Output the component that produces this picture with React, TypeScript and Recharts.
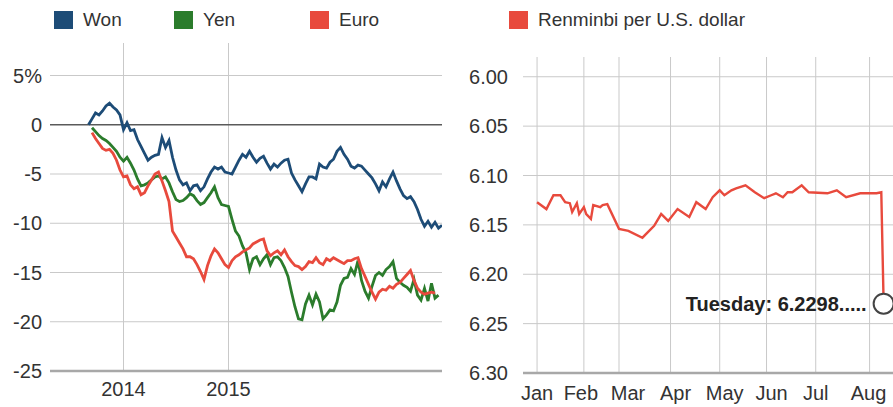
import React from 'react';
import {
  LineChart,
  Line,
  XAxis,
  YAxis,
  ReferenceLine,
  ReferenceDot,
} from 'recharts';

const FONT = '"Liberation Sans", Arial, Helvetica, sans-serif';

// ---- Left panel: % change against the U.S. dollar (weekly index) ----
const WEEK_COUNT = 102;
const YEAR_TICK_WEEKS = [10, 40];
const YEAR_LABELS = ['2014', '2015'];
const PCT_TICKS = [-25, -20, -15, -10, -5, 0, 5];

const WON = [
  0.0, 0.6, 1.2, 1.0, 1.4, 1.9, 2.2, 1.8, 1.5, 1.0,
  -0.5, 0.2, -0.6, -0.5, -1.5, -2.2, -2.9, -3.6, -3.3, -3.1,
  -3.0, -1.3, -2.3, -1.6, -3.3, -4.6, -5.6, -6.1, -5.9, -6.7,
  -6.2, -6.1, -6.7, -6.3, -5.5, -4.8, -4.3, -4.5, -4.3, -4.8,
  -4.9, -5.0, -4.3, -3.6, -3.0, -3.3, -2.7, -3.3, -3.8, -3.4,
  -3.2, -3.9, -4.5, -4.0, -4.3, -3.9, -3.6, -3.5, -4.9, -5.6,
  -6.2, -6.8, -6.0, -5.3, -5.3, -5.5, -4.0, -4.3, -4.4, -3.8,
  -3.5, -2.7, -2.3, -3.0, -3.5, -4.2, -4.4, -4.1, -4.2, -4.6,
  -5.0, -5.4, -6.0, -6.7, -5.8, -6.3, -5.5, -4.8, -5.7, -6.5,
  -7.2, -7.5, -7.3, -7.8, -8.6, -9.6, -10.3, -9.8, -10.4, -9.9,
  -10.5, -10.2,
];

const YEN = [
  null, -0.3, -0.7, -1.1, -1.4, -1.6, -1.9, -2.3, -2.7, -3.3,
  -3.7, -3.3, -3.9, -4.6, -5.5, -6.2, -6.1, -5.9, -5.6, -5.3,
  -5.2, -5.5, -5.3, -5.9, -6.8, -7.6, -7.8, -7.7, -7.4, -7.0,
  -7.2, -7.7, -8.1, -7.9, -7.4, -6.9, -6.3, -7.4, -8.1, -8.2,
  -8.3, -9.6, -10.8, -11.3, -12.3, -13.0, -14.7, -13.6, -13.4, -14.2,
  -13.6, -13.2, -14.2, -13.5, -13.4, -13.8, -14.5, -15.4, -17.0, -18.5,
  -19.7, -19.8, -18.2, -17.3, -18.3, -17.2, -18.0, -19.7, -19.3, -18.8,
  -18.9, -18.0, -16.3, -15.6, -15.5, -14.6, -15.2, -13.8, -15.8, -16.9,
  -17.6, -16.4, -15.3, -15.0, -15.3, -14.7, -14.4, -13.9, -15.6, -16.0,
  -16.3, -16.5, -16.9, -15.7, -17.3, -17.8, -16.6, -17.9, -16.1, -17.6,
  -17.3, null,
];

const EURO = [
  null, -0.8, -1.4, -1.9, -2.4, -2.6, -2.5, -2.9, -3.6, -4.6,
  -5.3, -5.2, -6.1, -6.5, -6.3, -7.1, -6.9, -6.2, -5.6, -5.0,
  -4.8, -5.7, -6.7, -7.8, -10.8, -11.4, -12.0, -12.6, -13.4, -13.4,
  -13.6, -14.2, -14.9, -15.7, -14.3, -13.3, -12.6, -13.0, -13.6, -14.2,
  -14.5, -13.8, -13.4, -13.2, -12.9, -12.7, -12.5, -12.1, -11.9, -11.7,
  -11.6, -12.8, -13.3, -13.0, -12.8, -13.2, -12.7, -13.4, -13.9, -14.3,
  -14.4, -14.7, -14.4, -13.9, -14.0, -13.5, -14.0, -14.2, -13.6, -13.8,
  -13.5, -13.7, -13.9, -14.1, -13.8, -13.8, -13.6, -13.5, -14.6, -15.4,
  -16.2, -17.0, -17.7, -17.0, -16.7, -16.8, -16.4, -16.6, -16.2, -16.0,
  -15.6, -15.2, -14.8, -15.8, -16.6, -17.0, -17.2, -17.1, -17.0, -17.1,
  null, null,
];

const CURRENCIES = [
  { key: 'won', name: 'Won', color: '#1d4c77', values: WON },
  { key: 'yen', name: 'Yen', color: '#2b7c2c', values: YEN },
  { key: 'euro', name: 'Euro', color: '#e84a3d', values: EURO },
];

// ---- Right panel: renminbi per U.S. dollar, by trading day of 2015 ----
const RMB_DAY = [
  0, 4, 7, 10, 12, 14, 15, 17, 18, 20,
  21, 23, 24, 27, 28, 30, 35, 39, 45, 50,
  53, 56, 60, 65, 68, 72, 75, 78, 80, 83,
  85, 89, 93, 97, 100, 102, 105, 107, 109, 113,
  116, 124, 128, 132, 138, 141, 145, 147, 148,
];
const RMB_RATE = [
  6.127, 6.134, 6.12, 6.12, 6.127, 6.128, 6.137, 6.128, 6.139, 6.132,
  6.139, 6.144, 6.13, 6.132, 6.13, 6.129, 6.154, 6.156, 6.163, 6.151,
  6.139, 6.146, 6.134, 6.142, 6.127, 6.134, 6.122, 6.115, 6.12, 6.115,
  6.113, 6.11, 6.117, 6.123, 6.12, 6.118, 6.122, 6.117, 6.117, 6.11,
  6.117, 6.118, 6.115, 6.122, 6.118, 6.118, 6.118, 6.117, 6.2298,
];
const MONTH_START_DAYS = [0, 20, 35, 57, 78, 98, 119, 142];
const MONTH_LABELS = ['Jan', 'Feb', 'Mar', 'Apr', 'May', 'Jun', 'Jul', 'Aug'];
const RATE_TICKS = [6.0, 6.05, 6.1, 6.15, 6.2, 6.25, 6.3];
const RMB_NAME = 'Renminbi per U.S. dollar';
const RMB_COLOR = '#e84a3d';
const LAST_DAY_NAME = 'Tuesday';

const pctRows = Array.from({ length: WEEK_COUNT }, (_, i) => {
  const row: Record<string, number | null> = { week: i };
  CURRENCIES.forEach((c) => {
    row[c.key] = c.values[i];
  });
  return row;
});

const rmbRows = RMB_DAY.map((day, i) => ({ day, rate: RMB_RATE[i] }));
const lastRow = rmbRows[rmbRows.length - 1];

const TICK_FONT = { fontSize: 20, fill: '#333', fontFamily: FONT };
const GRID = '#c9c9c9';
// Month labels are nudged sideways so the short February doesn't crowd March.
const MONTH_NUDGE = [0, -3, 9, 5, 5, 5, 0, -1];

function MonthTick(props: any) {
  const { x, y, payload, index } = props;
  const i = MONTH_START_DAYS.indexOf(payload.value);
  return (
    <text
      x={x + (MONTH_NUDGE[i] ?? 0)}
      y={y}
      dy={15}
      textAnchor="middle"
      fontSize={20}
      fill="#333"
      fontFamily={FONT}
      key={index}
    >
      {MONTH_LABELS[i]}
    </text>
  );
}

function LegendSwatch({ left, color, label }: { left: number; color: string; label: string }) {
  return (
    <div
      style={{
        position: 'absolute',
        left,
        top: 9,
        display: 'flex',
        alignItems: 'center',
        fontFamily: FONT,
        fontSize: 19,
        color: '#333',
        whiteSpace: 'nowrap',
      }}
    >
      <span style={{ display: 'inline-block', width: 19, height: 18, background: color, marginRight: 10 }} />
      <span>{label}</span>
    </div>
  );
}

const LEFT_LEGEND_X = [54, 174, 310];

export default function App() {
  const yearLabel = (v: number) => YEAR_LABELS[YEAR_TICK_WEEKS.indexOf(v)] ?? '';

  return (
    <div
      style={{
        position: 'absolute',
        left: 0,
        top: 0,
        width: 893,
        height: 407,
        background: '#fff',
        overflow: 'hidden',
        fontFamily: FONT,
      }}
    >
      {CURRENCIES.map((c, i) => (
        <LegendSwatch key={c.key} left={LEFT_LEGEND_X[i]} color={c.color} label={c.name} />
      ))}
      <LegendSwatch left={509} color={RMB_COLOR} label={RMB_NAME} />

      <div style={{ position: 'absolute', left: 0, top: 0 }}>
        <LineChart
          width={450}
          height={407}
          data={pctRows}
          margin={{ top: 43, right: 8, bottom: 5, left: 0 }}
        >
          {PCT_TICKS.filter((t) => t !== 0 && t !== -25).map((t) => (
            <ReferenceLine key={`h${t}`} y={t} stroke={GRID} strokeWidth={1} />
          ))}
          {YEAR_TICK_WEEKS.map((w) => (
            <ReferenceLine key={`v${w}`} x={w} stroke={GRID} strokeWidth={1} />
          ))}
          <XAxis
            dataKey="week"
            type="number"
            domain={[-11, 101]}
            ticks={YEAR_TICK_WEEKS}
            tickFormatter={yearLabel}
            tick={TICK_FONT}
            tickLine={false}
            axisLine={{ stroke: '#a8a8a8', strokeWidth: 2.5 }}
            tickMargin={5}
            height={31}
            interval={0}
            allowDataOverflow
          />
          <YAxis
            type="number"
            domain={[-25, 8.3]}
            ticks={PCT_TICKS}
            tickFormatter={(v: number) => (v === 5 ? '5%' : String(v))}
            tick={TICK_FONT}
            tickLine={false}
            axisLine={false}
            width={50}
            interval={0}
            allowDataOverflow
          />
          <ReferenceLine y={0} stroke="#5a5a5a" strokeWidth={1.5} />
          {CURRENCIES.map((c) => (
            <Line
              key={c.key}
              dataKey={c.key}
              name={c.name}
              type="linear"
              stroke={c.color}
              strokeWidth={2.8}
              dot={false}
              isAnimationActive={false}
            />
          ))}
        </LineChart>
      </div>

      <div style={{ position: 'absolute', left: 450, top: 0 }}>
        <LineChart
          width={443}
          height={407}
          data={rmbRows}
          margin={{ top: 57, right: 0, bottom: 4, left: 0 }}
        >
          {RATE_TICKS.filter((t) => t !== 6.3).map((t) => (
            <ReferenceLine key={`h${t}`} y={t} stroke={GRID} strokeWidth={1} />
          ))}
          {MONTH_START_DAYS.map((d) => (
            <ReferenceLine key={`v${d}`} x={d} stroke={GRID} strokeWidth={1} />
          ))}
          <XAxis
            dataKey="day"
            type="number"
            domain={[-6, 152]}
            ticks={MONTH_START_DAYS}
            tick={<MonthTick />}
            tickLine={false}
            axisLine={{ stroke: '#a8a8a8', strokeWidth: 2.5 }}
            tickMargin={6}
            height={30}
            interval={0}
            allowDataOverflow
          />
          <YAxis
            type="number"
            reversed
            domain={[5.98, 6.3]}
            ticks={RATE_TICKS}
            tickFormatter={(v: number) => v.toFixed(2)}
            tick={TICK_FONT}
            tickLine={false}
            axisLine={false}
            tickMargin={9}
            width={73}
            interval={0}
            allowDataOverflow
          />
          <Line
            dataKey="rate"
            name={RMB_NAME}
            type="linear"
            stroke={RMB_COLOR}
            strokeWidth={2.4}
            dot={false}
            isAnimationActive={false}
          />
          <ReferenceDot
            x={lastRow.day}
            y={lastRow.rate}
            r={10}
            fill="#fff"
            stroke="#444"
            strokeWidth={2}
            label={{
              value: `${LAST_DAY_NAME}: ${lastRow.rate.toFixed(4)}.....`,
              position: 'left',
              offset: 7,
              fill: '#222',
              fontSize: 20,
              fontWeight: 700,
              fontFamily: FONT,
            }}
          />
        </LineChart>
      </div>
    </div>
  );
}
